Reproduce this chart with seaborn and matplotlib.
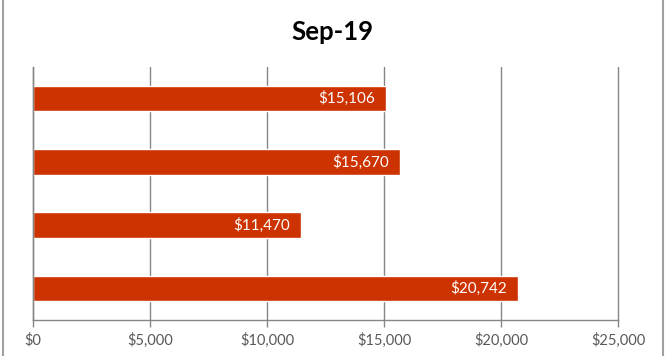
import matplotlib
matplotlib.use("Agg")
import matplotlib.pyplot as plt
import matplotlib.ticker as mticker
import seaborn as sns
import pandas as pd

# Datos del grafico (de arriba hacia abajo)
categorias = ["Item 1", "Item 2", "Item 3", "Item 4"]
valores = [15106, 15670, 11470, 20742]
titulo = "Sep-19"

df = pd.DataFrame({"categoria": categorias, "valor": valores})

sns.set_theme(style="white")
plt.rcParams["font.family"] = ["Lato", "DejaVu Sans"]

fig = plt.figure(figsize=(6.65, 3.56), dpi=100)
ax = fig.add_axes([33 / 665, 1 - 320 / 356, (618 - 33) / 665, (320 - 67) / 356])

sns.barplot(data=df, x="valor", y="categoria", orient="h", color="#CC3300",
            saturation=1, width=0.4, ax=ax)

ax.set_xlim(0, 25000)
ax.set_ylim(3.5, -0.5)
ax.xaxis.set_major_locator(mticker.MultipleLocator(5000))
ax.xaxis.set_major_formatter(mticker.FuncFormatter(lambda v, p: f"${v:,.0f}"))
ax.grid(axis="x", color="#868686", linewidth=1)
ax.set_axisbelow(True)
ax.set_xlabel("")
ax.set_ylabel("")
ax.set_yticks([])

for lado in ["top", "right"]:
    ax.spines[lado].set_visible(False)
for lado in ["left", "bottom"]:
    ax.spines[lado].set_color("#868686")
    ax.spines[lado].set_linewidth(1)

ax.tick_params(axis="x", bottom=True, length=5, width=1, color="#868686",
               labelsize=10.5, labelcolor="#595959", pad=4)

# Que la linea de $25,000 no quede cortada
for linea in ax.get_xgridlines():
    linea.set_clip_on(False)

# Etiquetas de valor dentro de las barras
for barra, v in zip(ax.patches, valores):
    ax.annotate(f"${v:,}", (barra.get_width(), barra.get_y() + barra.get_height() / 2),
                xytext=(-8, 0), textcoords="offset points",
                ha="right", va="center", color="white", fontsize=11)

fig.text(0.5, 1 - 32 / 356, titulo, ha="center", va="center",
         fontsize=18.5, fontweight="bold", color="black")

# Borde lateral del cuadro
fig.add_artist(plt.Line2D([3 / 665, 3 / 665], [0, 1], color="#A0A0A0", linewidth=1.5))
fig.add_artist(plt.Line2D([663 / 665, 663 / 665], [0, 1], color="#A0A0A0", linewidth=1.5))

fig.savefig("out.png", dpi=100)
